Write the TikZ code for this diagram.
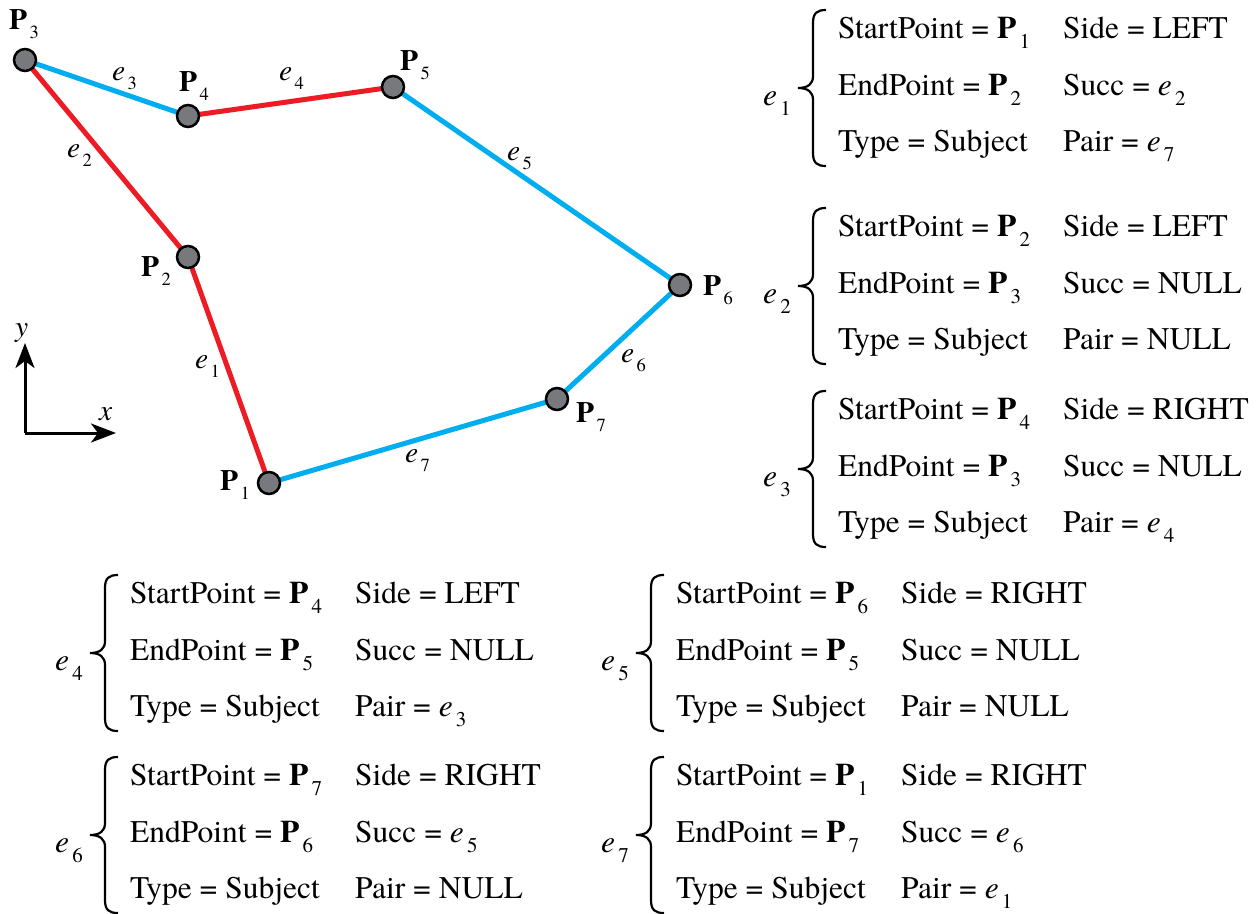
\documentclass[tikz,border=0pt]{standalone}
\usepackage{fontspec}
\setmainfont{texgyretermes}[Extension=.otf,UprightFont=*-regular,BoldFont=*-bold,ItalicFont=*-italic,BoldItalicFont=*-bolditalic]
\usetikzlibrary{arrows.meta}
\definecolor{ered}{RGB}{237,28,36}
\definecolor{eblue}{RGB}{0,174,239}
\definecolor{ptgray}{RGB}{120,121,124}
\newcommand{\tsub}[1]{\kern0.1em\raisebox{-0.32em}{\fontsize{21}{21}\selectfont #1}}
\newcommand{\dsub}[1]{\kern0.08em\raisebox{-0.33em}{\fontsize{18.5}{18.5}\selectfont #1}}
\tikzset{
  tt/.style={anchor=base west,inner sep=0pt,font=\fontsize{31.5}{36}\selectfont},
  dl/.style={anchor=base west,inner sep=0pt,font=\fontsize{29.5}{34}\selectfont},
  pt/.style={circle,draw=black,line width=2.5pt,fill=ptgray,minimum size=22pt,inner sep=0pt},
  redge/.style={ered,line width=5pt},
  bedge/.style={eblue,line width=5pt},
  brc/.style={line width=2.2pt,line cap=butt},
  axis/.style={line width=3pt,-{Stealth[length=25pt,width=19pt,inset=7pt]}}
}
\newcommand{\eblock}[9]{%
 \begin{scope}[shift={(#2,#3)}]
  \node[tt] (#1s) at (0,30) {StartPoint = \textbf{P}\tsub{#5}};
  \node[tt] (#1sd) at (225,30) {Side = #6};
  \node[tt] (#1e) at (0,87) {EndPoint = \textbf{P}\tsub{#7}};
  \node[tt] (#1sc) at (225,87) {Succ = #8};
  \node[tt] (#1t) at (0,143) {Type = Subject};
  \node[tt] (#1p) at (225,143) {Pair = #9};
  \draw[brc] (-12,2) .. controls (-21,2) and (-25,5) .. (-25,15) -- (-25,68)
     .. controls (-25,76) and (-30,80) .. (-40,80)
     .. controls (-30,80) and (-25,84) .. (-25,92) -- (-25,145)
     .. controls (-25,155) and (-21,158) .. (-12,158);
  \node[tt] (#1l) at (-75,97) {\textit{e}\tsub{#4}};
 \end{scope}}
\newcommand{\ev}[1]{\textit{e}\tsub{#1}}
\begin{document}
\begin{tikzpicture}[x=1pt,y=-1pt]
\useasboundingbox (0,0) rectangle (1260,913);
% points
\coordinate (c1) at (269,483);
\coordinate (c2) at (188,257);
\coordinate (c3) at (25,60);
\coordinate (c4) at (188,116);
\coordinate (c5) at (393,87);
\coordinate (c6) at (680,285);
\coordinate (c7) at (557,399);
% edges
\draw[redge] (c1) -- (c2);
\draw[redge] (c2) -- (c3);
\draw[bedge] (c3) -- (c4);
\draw[redge] (c4) -- (c5);
\draw[bedge] (c5) -- (c6);
\draw[bedge] (c6) -- (c7);
\draw[bedge] (c7) -- (c1);
% nodes
\foreach \i in {1,...,7} { \node[pt] (p\i) at (c\i) {}; }
% point labels
\node[dl] (lp1) at (220,490) {\textbf{P}\dsub{1}};
\node[dl] (lp2) at (141,276) {\textbf{P}\dsub{2}};
\node[dl] (lp3) at (9,29) {\textbf{P}\dsub{3}};
\node[dl] (lp4) at (179,91) {\textbf{P}\dsub{4}};
\node[dl] (lp5) at (400,70) {\textbf{P}\dsub{5}};
\node[dl] (lp6) at (703,295) {\textbf{P}\dsub{6}};
\node[dl] (lp7) at (576,422) {\textbf{P}\dsub{7}};
% edge labels
\node[dl] (le1) at (195,368) {\textit{e}\dsub{1}};
\node[dl] (le2) at (67,157) {\textit{e}\dsub{2}};
\node[dl] (le3) at (112,80) {\textit{e}\dsub{3}};
\node[dl] (le4) at (279,80) {\textit{e}\dsub{4}};
\node[dl] (le5) at (507,160) {\textit{e}\dsub{5}};
\node[dl] (le6) at (621,362) {\textit{e}\dsub{6}};
\node[dl] (le7) at (405,462) {\textit{e}\dsub{7}};
% axes
\coordinate (o) at (25,433);
\coordinate (ay) at (25,343);
\coordinate (ax) at (116,433);
\draw[axis] (o) -- (ay);
\draw[axis] (o) -- (ax);
\node[dl] (ly) at (15,336) {\textit{y}};
\node[dl] (lx) at (99,420) {\textit{x}};
% tables
\eblock{t1}{838}{8}{1}{1}{LEFT}{2}{\ev{2}}{\ev{7}}
\eblock{t2}{838}{206}{2}{2}{LEFT}{3}{NULL}{NULL}
\eblock{t3}{838}{389}{3}{4}{RIGHT}{3}{NULL}{\ev{4}}
\eblock{t4}{130}{573}{4}{4}{LEFT}{5}{NULL}{\ev{3}}
\eblock{t5}{676}{573}{5}{6}{RIGHT}{5}{NULL}{NULL}
\eblock{t6}{130}{755}{6}{7}{RIGHT}{6}{\ev{5}}{NULL}
\eblock{t7}{676}{755}{7}{1}{RIGHT}{7}{\ev{6}}{\ev{1}}
\end{tikzpicture}
\end{document}
